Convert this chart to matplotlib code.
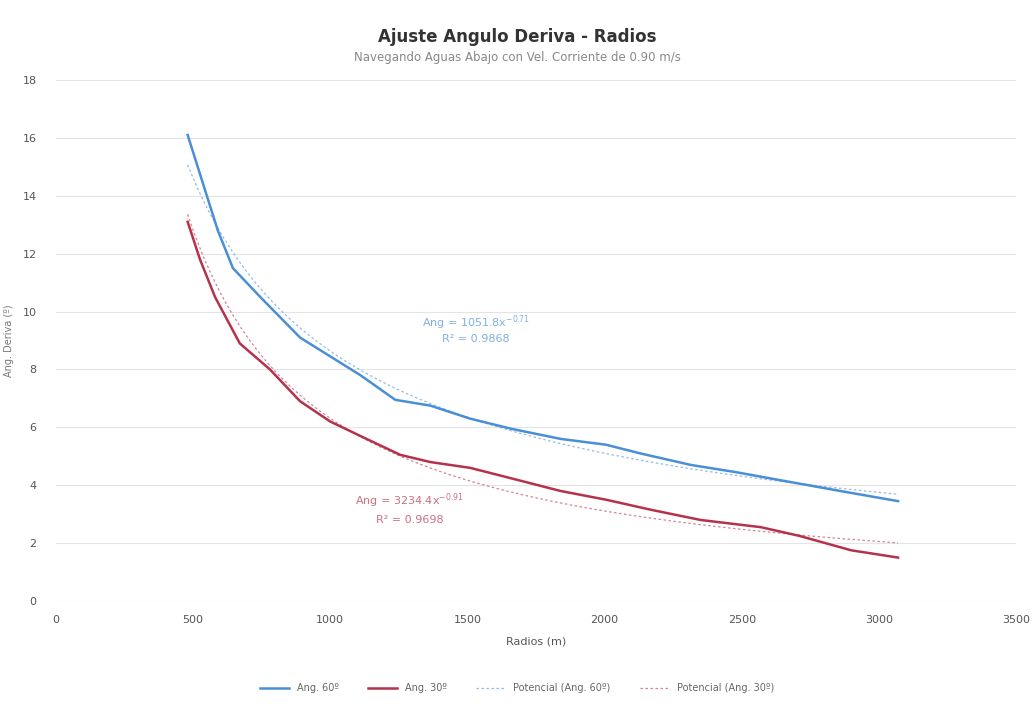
import numpy as np
import matplotlib
matplotlib.use("Agg")
import matplotlib.pyplot as plt

# Data
radios_60 = [480, 530, 590, 645, 745, 890, 1000, 1110, 1237, 1365, 1510, 1660, 1840, 2005, 2130, 2315, 2480, 2625, 2860, 3070]
ang_60 = [16.1, 14.6, 12.8, 11.5, 10.5, 9.1, 8.45, 7.8, 6.95, 6.75, 6.3, 5.95, 5.6, 5.4, 5.1, 4.7, 4.45, 4.2, 3.8, 3.45]

radios_30 = [480, 525, 580, 670, 780, 890, 1000, 1110, 1255, 1365, 1510, 1655, 1840, 2005, 2170, 2350, 2570, 2710, 2900, 3070]
ang_30 = [13.1, 11.8, 10.5, 8.9, 8.0, 6.9, 6.2, 5.7, 5.05, 4.8, 4.6, 4.25, 3.8, 3.5, 3.15, 2.8, 2.55, 2.25, 1.75, 1.5]

labels = ["Ang. 60º", "Ang. 30º", "Potencial (Ang. 60º)", "Potencial (Ang. 30º)"]
eq_60 = ["Ang = 1051.8x$^{-0.71}$", "R² = 0.9868"]
eq_30 = ["Ang = 3234.4x$^{-0.91}$", "R² = 0.9698"]

x_ticks = [0, 500, 1000, 1500, 2000, 2500, 3000, 3500]
y_ticks = [0, 2, 4, 6, 8, 10, 12, 14, 16, 18]

c60 = "#4a8fd6"
c30 = "#b5324c"

fig = plt.figure(figsize=(10.34, 7.08), dpi=100)
ax = fig.add_axes([56/1034, 1-601/708, (1016-56)/1034, (601-80)/708])

def power_fit(x, y):
    b, lna = np.polyfit(np.log(x), np.log(y), 1)
    return np.exp(lna), b

ax.plot(radios_60, ang_60, color=c60, lw=1.8, label=labels[0])
ax.plot(radios_30, ang_30, color=c30, lw=1.8, label=labels[1])

for xs, ys, c, lab in [(radios_60, ang_60, c60, labels[2]), (radios_30, ang_30, c30, labels[3])]:
    a, b = power_fit(np.array(xs), np.array(ys))
    xx = np.linspace(min(xs), max(xs), 200)
    ax.plot(xx, a * xx**b, color=c, lw=0.9, ls=(0, (2, 2)), alpha=0.6, label=lab)

ax.set_xlim(0, 3500)
ax.set_ylim(0, 18)
ax.set_xticks(x_ticks)
ax.set_yticks(y_ticks)
ax.grid(axis="y", color="#e4e4e4", lw=0.8)
for s in ax.spines.values():
    s.set_visible(False)
ax.tick_params(length=0, labelsize=8, colors="#555555")
ax.tick_params(axis="x", pad=10)
ax.tick_params(axis="y", pad=14)
ax.set_xlabel("Radios (m)", fontsize=8, color="#555555", labelpad=8)
ax.set_ylabel("Ang. Deriva (º)", fontsize=7, color="#777777", labelpad=6)

ax.text(1530, 9.6, eq_60[0], color=c60, fontsize=8, ha="center", va="center", alpha=0.7)
ax.text(1530, 9.05, eq_60[1], color=c60, fontsize=8, ha="center", va="center", alpha=0.7)
ax.text(1290, 3.45, eq_30[0], color=c30, fontsize=8, ha="center", va="center", alpha=0.7)
ax.text(1290, 2.8, eq_30[1], color=c30, fontsize=8, ha="center", va="center", alpha=0.7)

fig.text(0.5, 1-37/708, "Ajuste Angulo Deriva - Radios", ha="center", va="center",
         fontsize=12, fontweight="bold", color="#333333")
fig.text(0.5, 1-58/708, "Navegando Aguas Abajo con Vel. Corriente de 0.90 m/s",
         ha="center", va="center", fontsize=8.5, color="#888888")

fig.legend(loc="center", bbox_to_anchor=(0.5, 1-688/708), ncol=4, frameon=False,
           fontsize=7, labelcolor="#666666", columnspacing=3, handlelength=3)

fig.savefig("out.png", dpi=100)
